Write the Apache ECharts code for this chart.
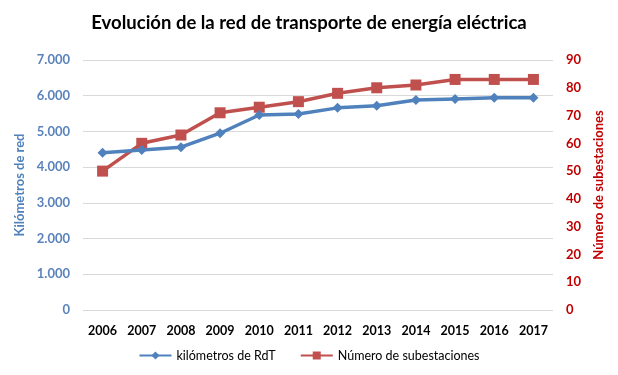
<!DOCTYPE html>
<html>
<head>
<meta charset="utf-8">
<script src="https://cdn.jsdelivr.net/npm/echarts@6/dist/echarts.min.js"></script>
<style>
  html, body { margin: 0; padding: 0; background: #fff; }
  #main { width: 618px; height: 375px; }
</style>
</head>
<body>
<div id="main"></div>
<script>
// datos
var years = ['2006', '2007', '2008', '2009', '2010', '2011', '2012', '2013', '2014', '2015', '2016', '2017'];
var kmRed = [4400, 4480, 4560, 4950, 5460, 5490, 5660, 5720, 5880, 5910, 5940, 5940];
var subestaciones = [50, 60, 63, 71, 73, 75, 78, 80, 81, 83, 83, 83];

var azul = '#4F81BD';
var rojo = '#C0504D';
var fuente = 'Lato, "Open Sans", sans-serif';

// separador de miles con punto
function miles(v) {
    return String(v).replace(/\B(?=(\d{3})+(?!\d))/g, '.');
}

var myChart = echarts.init(document.getElementById('main'));

var option = {
    backgroundColor: '#fff',
    textStyle: { fontFamily: fuente },
    title: {
        text: 'Evolución de la red de transporte de energía eléctrica',
        left: 'center',
        top: 9,
        textStyle: { fontSize: 18.5, fontWeight: 'bold', color: '#000', fontFamily: fuente }
    },
    legend: {
        bottom: 8,
        left: 'center',
        itemWidth: 32,
        itemHeight: 10,
        itemGap: 24,
        textStyle: { fontSize: 12.5, color: '#000', fontFamily: fuente }
    },
    grid: { left: 83, right: 65, top: 60, bottom: 65, containLabel: false },
    xAxis: {
        type: 'category',
        data: years,
        boundaryGap: true,
        axisLine: { show: false },
        axisTick: { show: false },
        axisLabel: { color: '#000', fontWeight: 'bold', fontSize: 12.5, margin: 14, interval: 0 }
    },
    yAxis: [
        {
            type: 'value',
            min: 0, max: 7000, interval: 1000,
            name: 'Kilómetros de red',
            nameLocation: 'middle',
            nameGap: 53,
            nameTextStyle: { color: azul, fontWeight: 'bold', fontSize: 13 },
            axisLine: { show: false },
            axisTick: { show: false },
            axisLabel: { color: '#5A83BC', fontWeight: 'bold', fontSize: 13, margin: 13, formatter: miles },
            splitLine: { lineStyle: { color: '#D9D9D9' } }
        },
        {
            type: 'value',
            min: 0, max: 90, interval: 10,
            name: 'Número de subestaciones',
            nameLocation: 'middle',
            nameRotate: 90,
            nameGap: 38,
            nameTextStyle: { color: '#C00000', fontWeight: 'bold', fontSize: 13 },
            axisLine: { show: false },
            axisTick: { show: false },
            axisLabel: { color: '#C00000', fontWeight: 'bold', fontSize: 13, margin: 13 },
            splitLine: { show: false }
        }
    ],
    series: [
        {
            name: 'kilómetros de RdT',
            type: 'line',
            yAxisIndex: 0,
            data: kmRed,
            symbol: 'diamond',
            symbolSize: 10,
            lineStyle: { color: azul, width: 3.5 },
            itemStyle: { color: azul },
            z: 3
        },
        {
            name: 'Número de subestaciones',
            type: 'line',
            yAxisIndex: 1,
            data: subestaciones,
            symbol: 'rect',
            symbolSize: 11,
            lineStyle: { color: rojo, width: 3.5 },
            itemStyle: { color: rojo },
            z: 2
        }
    ]
};

myChart.setOption(option);
</script>
</body>
</html>
